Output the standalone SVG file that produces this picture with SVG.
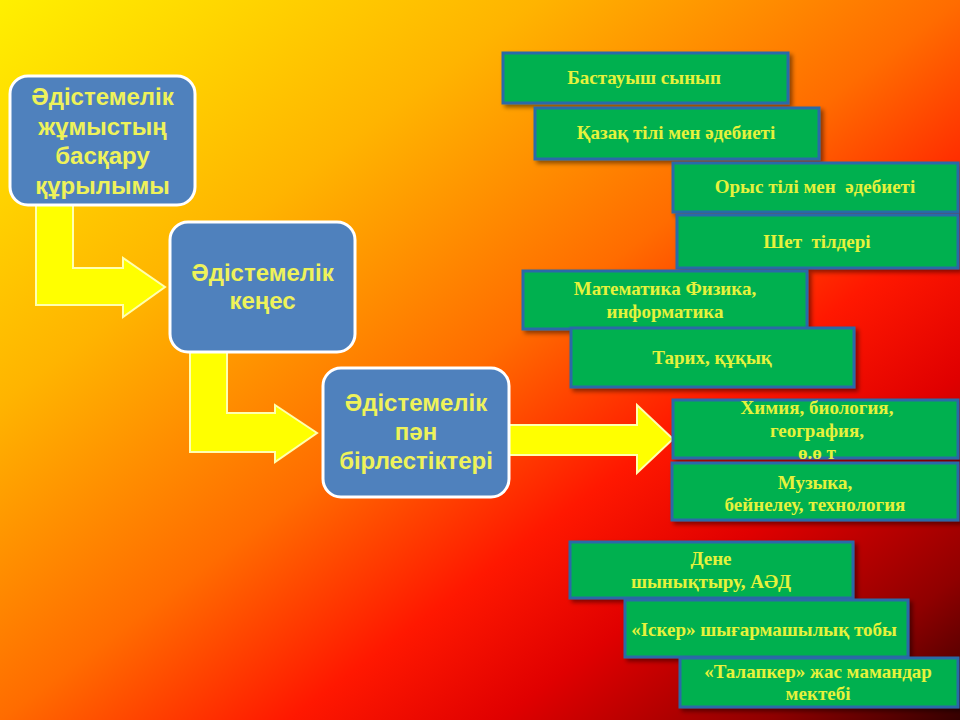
<svg xmlns="http://www.w3.org/2000/svg" width="960" height="720" viewBox="0 0 960 720">
<defs>
<linearGradient id="bg" x1="0" y1="0" x2="1" y2="1">
<stop offset="0" stop-color="#FFF000"/>
<stop offset="0.28" stop-color="#FFB400"/>
<stop offset="0.5" stop-color="#FF6C00"/>
<stop offset="0.65" stop-color="#FF1800"/>
<stop offset="0.76" stop-color="#E00000"/>
<stop offset="0.9" stop-color="#900000"/>
<stop offset="1" stop-color="#350000"/>
</linearGradient>
<filter id="sh" x="-10%" y="-20%" width="125%" height="150%">
<feDropShadow dx="3" dy="3" stdDeviation="2" flood-color="#000" flood-opacity="0.45"/>
</filter>
</defs>
<style>
.blue{fill:#4F81BD;stroke:#FFFFFF;stroke-width:3}
.bt{font-family:"Liberation Sans",Arial,sans-serif;font-weight:bold;font-size:24px;fill:#EEF25A;text-anchor:middle}
.green{fill:#00B050;stroke:#2A6AA8;stroke-width:3;filter:url(#sh)}
.gt{font-family:"Liberation Serif","Times New Roman",serif;font-weight:bold;font-size:19px;fill:#E6F23C;text-anchor:middle;white-space:pre}
.arr{fill:#FFFF00;stroke:#FFFFB0;stroke-width:2;stroke-linejoin:miter}
</style>
<rect x="0" y="0" width="960" height="720" fill="url(#bg)"/>
<g id="connectors">
<path class="arr" d="M36,205 L73,205 L73,268 L123,268 L123,258 L165,287 L123,317 L123,305 L36,305 Z"/>
<path class="arr" d="M190,352 L227,352 L227,413 L275,413 L275,405 L317,433 L275,462 L275,452 L190,452 Z"/>
<path class="arr" d="M509,425 L637,425 L637,405 L673,439 L637,473 L637,455 L509,455 Z"/>
</g>
<g id="n1">
<rect class="blue" x="10" y="76" width="185" height="129" rx="18"/>
<text class="bt" x="102.5" y="105">Әдістемелік</text>
<text class="bt" x="102.5" y="134.5">жұмыстың</text>
<text class="bt" x="102.5" y="164">басқару</text>
<text class="bt" x="102.5" y="193.5">құрылымы</text>
</g>
<g id="n2">
<rect class="blue" x="170" y="222" width="185" height="130" rx="18"/>
<text class="bt" x="262.5" y="281">Әдістемелік</text>
<text class="bt" x="262.5" y="309">кеңес</text>
</g>
<g id="n3">
<rect class="blue" x="323" y="368" width="186" height="129" rx="18"/>
<text class="bt" x="416" y="411">Әдістемелік</text>
<text class="bt" x="416" y="440">пән</text>
<text class="bt" x="416" y="469">бірлестіктері</text>
</g>
<g id="g1">
<rect class="green" x="503" y="53" width="285" height="50"/>
<text class="gt" x="644" y="84">Бастауыш сынып</text>
</g>
<g id="g2">
<rect class="green" x="535" y="108" width="284" height="51"/>
<text class="gt" x="676" y="139">Қазақ тілі мен әдебиеті</text>
</g>
<g id="g3">
<rect class="green" x="673" y="163" width="285" height="49"/>
<text class="gt" x="815" y="193">Орыс тілі мен  әдебиеті</text>
</g>
<g id="g4">
<rect class="green" x="677" y="215" width="281" height="53"/>
<text class="gt" x="817" y="248">Шет  тілдері</text>
</g>
<g id="g5">
<rect class="green" x="523" y="271" width="284" height="58"/>
<text class="gt" x="665" y="295">Математика Физика,</text>
<text class="gt" x="665" y="318">информатика</text>
</g>
<g id="g6">
<rect class="green" x="571" y="328" width="283" height="59"/>
<text class="gt" x="712" y="364">Тарих, құқық</text>
</g>
<g id="g7">
<rect class="green" x="673" y="400" width="285" height="58"/>
<text class="gt" x="817" y="414">Химия, биология,</text>
<text class="gt" x="817" y="437">география,</text>
<text class="gt" x="817" y="459">ө.ө т</text>
</g>
<g id="g8">
<rect class="green" x="672" y="463" width="286" height="57"/>
<text class="gt" x="815" y="489">Музыка,</text>
<text class="gt" x="815" y="511">бейнелеу, технология</text>
</g>
<g id="g9">
<rect class="green" x="570" y="542" width="283" height="56"/>
<text class="gt" x="711" y="565">Дене</text>
<text class="gt" x="711" y="588">шынықтыру, АӘД</text>
</g>
<g id="g10">
<rect class="green" x="625" y="600" width="283" height="57"/>
<text class="gt" x="764" y="636">«Іскер» шығармашылық тобы</text>
</g>
<g id="g11">
<rect class="green" x="680" y="658" width="278" height="49"/>
<text class="gt" x="818" y="678">«Талапкер» жас мамандар</text>
<text class="gt" x="818" y="700">мектебі</text>
</g>
</svg>
